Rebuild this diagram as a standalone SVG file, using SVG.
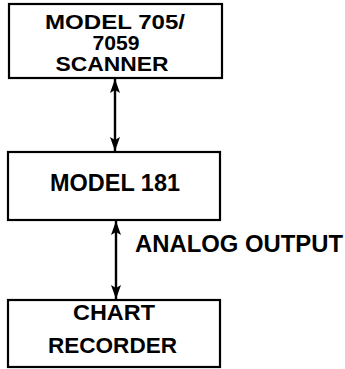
<svg xmlns="http://www.w3.org/2000/svg" width="345" height="369" viewBox="0 0 345 369">
<style>
.box{fill:#fff;stroke:#000;stroke-width:2.2}
.t{font-family:"Liberation Sans",Arial,sans-serif;font-weight:bold;fill:#000;text-anchor:middle}
.c{stroke:#000;stroke-width:2.4;fill:none}
</style>
<defs>
<marker id="ah" viewBox="0 0 14 10" refX="14" refY="5" markerWidth="14" markerHeight="10" orient="auto-start-reverse" markerUnits="userSpaceOnUse">
<path d="M0,0 L14,5 L0,10 L3,5 Z" fill="#000"/>
</marker>
</defs>
<rect width="345" height="369" fill="#fff"/>
<g id="scanner">
<rect class="box" x="9" y="4" width="213" height="74"/>
<text class="t" x="115" y="29" font-size="20" textLength="140" lengthAdjust="spacingAndGlyphs">MODEL 705/</text>
<text class="t" x="116" y="50" font-size="20" textLength="47" lengthAdjust="spacingAndGlyphs">7059</text>
<text class="t" x="112" y="71" font-size="20" textLength="113" lengthAdjust="spacingAndGlyphs">SCANNER</text>
</g>
<g id="model181">
<rect class="box" x="8" y="152" width="212" height="68"/>
<text class="t" x="115" y="191" font-size="24" textLength="130" lengthAdjust="spacingAndGlyphs">MODEL 181</text>
</g>
<g id="recorder">
<rect class="box" x="8" y="300" width="212" height="67"/>
<text class="t" x="114" y="320" font-size="22" textLength="82" lengthAdjust="spacingAndGlyphs">CHART</text>
<text class="t" x="112.5" y="353" font-size="22" textLength="129" lengthAdjust="spacingAndGlyphs">RECORDER</text>
</g>
<g id="connectors">
<line class="c" x1="115" y1="79" x2="115" y2="151" marker-start="url(#ah)" marker-end="url(#ah)"/>
<line class="c" x1="116" y1="221" x2="116" y2="299" marker-start="url(#ah)" marker-end="url(#ah)"/>
<text class="t" x="239" y="252" font-size="23" textLength="208" lengthAdjust="spacingAndGlyphs">ANALOG OUTPUT</text>
</g>
</svg>
